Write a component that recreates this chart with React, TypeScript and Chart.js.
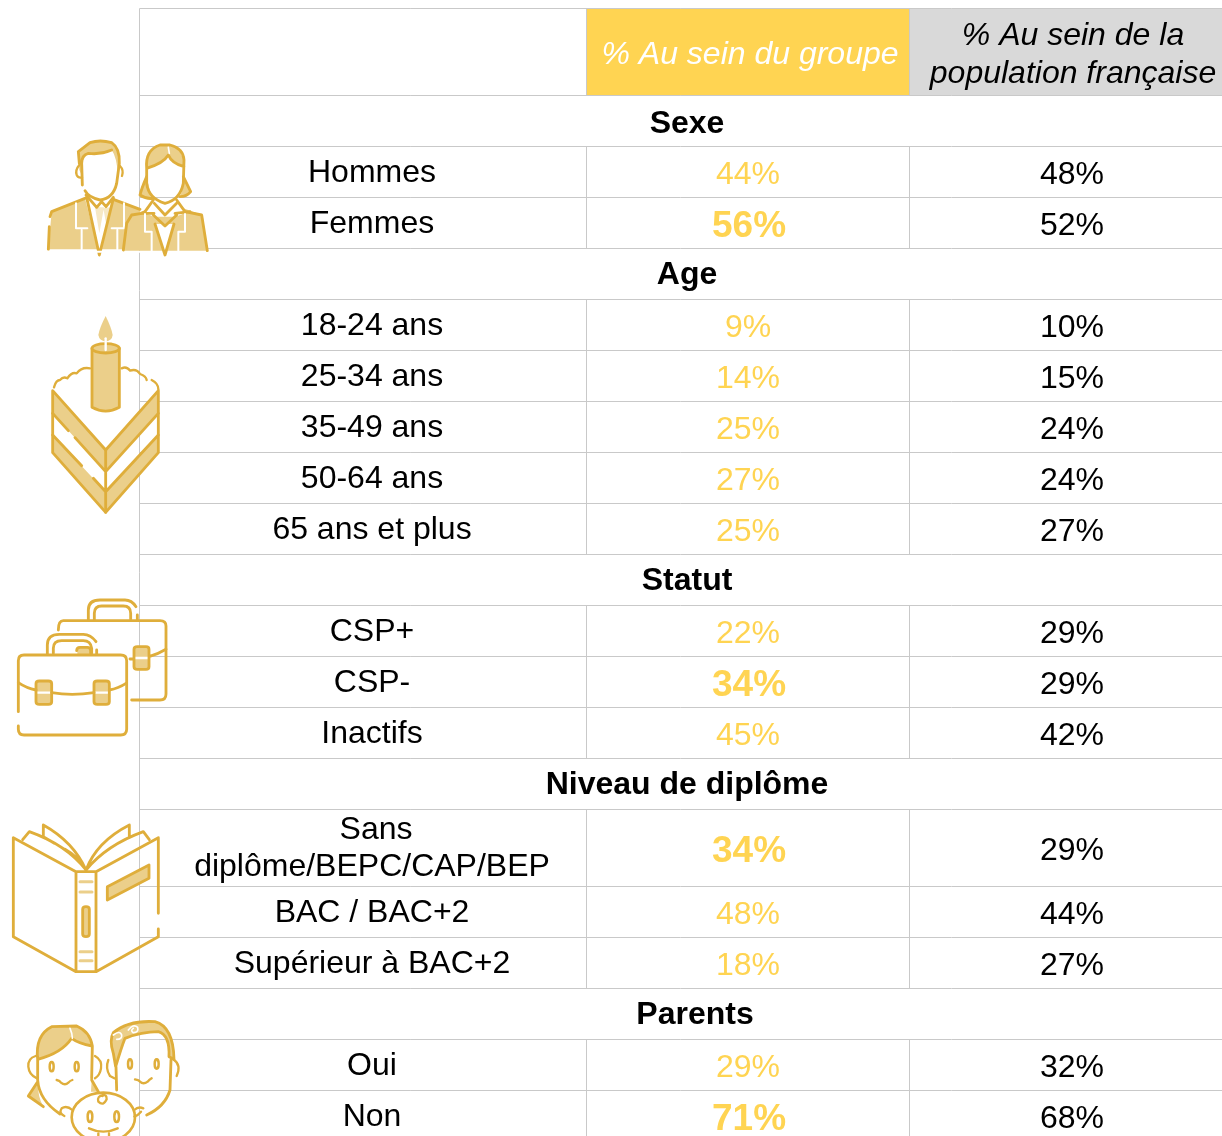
import React, { useEffect, useRef } from "react";
import { Chart, registerables } from "chart.js";

Chart.register(...registerables);

const sectionTitles = ["Sexe", "Age", "Statut", "Niveau de diplôme", "Parents"];
const sectionSizes = [2, 5, 3, 3, 2];
const rowLabels = [
  "Hommes", "Femmes",
  "18-24 ans", "25-34 ans", "35-49 ans", "50-64 ans", "65 ans et plus",
  "CSP+", "CSP-", "Inactifs",
  "Sans\ndiplôme/BEPC/CAP/BEP", "BAC / BAC+2", "Supérieur à BAC+2",
  "Oui", "Non",
];
const groupValues = [44, 56, 9, 14, 25, 27, 25, 22, 34, 45, 34, 48, 18, 29, 71];
const populationValues = [48, 52, 10, 15, 24, 24, 27, 29, 29, 42, 29, 44, 27, 32, 68];
const emphasisedRows = [1, 8, 10, 14];
const groupHeader = "% Au sein du groupe";
const populationHeader = ["% Au sein de la", "population française"];

const W = 1222, H = 1136;
const TOP = 8.5, HEADER_H = 87, ROW_H = 51, TALL_H = 77;
const X_LEFT = 139.5, X_A = 586.5, X_B = 909.5;
const X_LABEL = 372, X_SECTION = 687, X_GROUP = 748, X_POP = 1072;
const YELLOW = "#FFD452", GREY = "#D9D9D9", LINE = "#C9C9C9";
const STROKE = "#DFAE3B", FILL = "#EBCF8A";

type Row = { kind: "section" | "data"; top: number; bottom: number; index: number };
const rows: Row[] = [];
{
  let y = TOP + HEADER_H, idx = 0;
  sectionSizes.forEach((n, s) => {
    rows.push({ kind: "section", top: y, bottom: y + ROW_H, index: s });
    y += ROW_H;
    for (let i = 0; i < n; i++) {
      const h = rowLabels[idx].includes("\n") ? TALL_H : ROW_H;
      rows.push({ kind: "data", top: y, bottom: y + h, index: idx });
      y += h;
      idx++;
    }
  });
}
const dataRows = rows.filter((r) => r.kind === "data");
const rowCentre = (i: number) => (dataRows[i].top + dataRows[i].bottom) / 2;

type C = CanvasRenderingContext2D;
class Pen {
  ctx: C;
  constructor(ctx: C) { this.ctx = ctx; }
  s(d: string, color = STROKE, w = 8.5) {
    this.ctx.strokeStyle = color; this.ctx.lineWidth = w; this.ctx.stroke(new Path2D(d));
  }
  f(d: string, color = FILL) {
    this.ctx.fillStyle = color; this.ctx.fill(new Path2D(d));
  }
  eye(x: number, y: number, rx = 6, ry = 14) {
    const c = this.ctx;
    c.beginPath(); c.ellipse(x, y, rx, ry, 0, 0, Math.PI * 2);
    c.strokeStyle = STROKE; c.lineWidth = 7.5; c.stroke();
  }
}
function icon(ctx: C, ox: number, oy: number, draw: (p: Pen) => void) {
  ctx.save();
  ctx.translate(ox, oy);
  ctx.scale(1 / 3, 1 / 3);
  ctx.lineCap = "round";
  ctx.lineJoin = "round";
  draw(new Pen(ctx));
  ctx.restore();
}

function drawPeople(ctx: C) {
  icon(ctx, 0, 120, (p) => {
    // man
    p.f("M145 388 L155 275 L255 235 L298 405 L340 240 L420 268 L425 388 Z");
    p.f("M235 95 Q250 78 270 66 Q300 58 335 68 Q360 85 358 130 L354 165 Q350 110 335 90 Q300 105 265 100 Q245 120 245 140 L247 170 L238 150 Z");
    p.f("M285 262 L312 262 L298 340 Z M310 265 L332 262 L318 310 Z", "#F6E8C4");
    p.s("M155 275 L255 235 M340 238 L420 268 M155 275 L150 290 M148 320 L145 388");
    p.s("M260 232 L298 405 L340 236");
    p.s("M258 225 L290 262 L305 245 L318 260 L340 232");
    p.s("M270 68 Q300 58 335 68 Q360 85 358 130 L350 190 Q340 235 300 240 Q265 232 255 212 M245 130 L247 195 M245 130 Q245 105 265 100 Q300 105 335 90 M235 95 L270 68 M235 95 L238 130");
    p.s("M238 135 Q225 150 230 165 Q235 175 246 172 M360 138 Q372 150 366 168", STROKE, 7);
    p.s("M228 250 L228 325 L262 325 M245 330 L245 388 M372 250 L372 325 L335 325 M352 330 L352 388 M130 395 L430 395", "#FFFFFF", 6);
    // woman
    p.f("M368 392 L380 310 L395 285 L460 262 L495 300 L530 258 L608 285 L622 392 Z");
    p.f("M440 145 Q435 90 480 75 L510 75 Q550 85 552 140 Q515 130 505 105 Q490 130 440 145 Z");
    p.f("M440 170 Q425 205 420 225 Q440 238 458 235 L448 205 Z M550 170 L572 215 Q560 230 540 230 L550 200 Z");
    p.f("M462 245 L435 278 L470 305 L495 320 L525 305 L555 275 L530 245 L495 255 Z", "#FFFFFF");
    p.f("M437 280 L462 290 L525 290 L555 280 L555 335 L437 335 Z");
    p.f("M465 312 L495 405 L522 312 Z", "#FFFFFF");
    p.s("M440 145 L440 190 Q445 235 495 250 Q540 240 550 190 L552 120 Q550 85 510 75 L480 75 Q435 90 440 145 Q490 130 505 105 Q515 130 552 140");
    p.s("M440 170 Q425 205 420 225 Q440 238 458 235 M550 170 L572 215 Q560 230 540 230");
    p.s("M460 240 L435 275 L425 280 L395 285 L380 310 L370 390 M530 240 L555 275 L605 285 L622 392");
    p.s("M463 250 L495 285 L530 250 M460 285 L495 318 L530 285 M465 312 L495 405 L522 312 M425 280 L462 280 M525 280 L570 275");
    p.s("M435 282 L435 335 L455 335 L455 392 M555 282 L555 335 L535 335 L535 392", "#FFFFFF", 6);
    p.s("M505 82 L508 100", "#FFFFFF", 5);
  });
}

function drawCake(ctx: C) {
  icon(ctx, 30, 300, (p) => {
    p.f("M68 272 L227 450 L227 515 L68 340 Z M68 405 L227 575 L227 637 L68 458 Z");
    p.f("M385 272 L227 450 L227 515 L385 340 Z M385 405 L227 575 L227 637 L385 458 Z");
    p.s("M68 272 L227 450 L385 272 L385 458 L227 637 L68 458 Z");
    p.s("M68 340 L115 392 M135 413 L227 515 L385 340 M68 405 L155 497 M190 535 L227 575 L385 405 M227 450 L227 637");
    p.s("M72 262 Q78 240 90 240 Q100 228 112 235 Q125 215 140 220 Q155 200 180 205", STROKE, 7);
    p.s("M275 205 Q290 198 300 212 Q320 205 330 222 Q348 228 350 240 M365 240 Q385 250 385 268", STROKE, 7);
    p.f("M227 48 Q245 85 248 105 Q246 122 227 125 Q208 122 205 105 Q208 85 227 48 Z");
    p.f("M186 145 L268 145 L268 322 Q227 345 186 322 Z");
    p.s("M186 145 L186 322 Q227 345 268 322 L268 145");
    ctx.beginPath(); ctx.ellipse(227, 145, 41, 14, 0, 0, Math.PI * 2);
    ctx.fillStyle = FILL; ctx.fill();
    ctx.strokeStyle = STROKE; ctx.lineWidth = 8.5; ctx.stroke();
    p.s("M227 115 L227 150", "#FFFFFF", 7);
  });
}

function drawCases(ctx: C) {
  icon(ctx, 0, 590, (p) => {
    p.f("M402 178 Q402 170 412 170 L438 170 Q447 170 447 178 L447 230 Q447 238 438 238 L412 238 Q402 238 402 230 Z");
    p.f("M232 172 L272 172 L272 192 L232 192 Z");
    p.f("M108 281 Q108 273 118 273 L145 273 Q155 273 155 281 L155 335 Q155 343 145 343 L118 343 Q108 343 108 335 Z");
    p.f("M282 281 Q282 273 292 273 L318 273 Q328 273 328 281 L328 335 Q328 343 318 343 L292 343 Q282 343 282 335 Z");
    p.s("M405 204 L445 204 M112 308 L152 308 M285 308 L325 308", "#FFFFFF", 7);
    p.s("M395 330 L480 330 Q498 330 498 312 L498 108 Q498 92 480 92 L190 92 Q175 92 175 120");
    p.s("M265 90 L265 60 Q265 30 300 30 L375 30 Q395 30 408 50 M283 90 L283 70 Q283 48 305 48 L370 48 Q392 48 392 70 L392 88 M412 75 L412 92");
    p.s("M402 178 Q402 170 412 170 L438 170 Q447 170 447 178 L447 230 Q447 238 438 238 L412 238 Q402 238 402 230 Z M390 207 L402 207 M447 200 Q475 192 498 178");
    p.s("M230 182 Q230 172 240 172 L262 172 Q272 172 272 182 L272 190");
    p.s("M55 365 L55 212 Q55 195 72 195 L362 195 Q380 195 380 212 L380 418 Q380 435 362 435 L72 435 Q55 435 55 418 L55 408");
    p.s("M142 192 L142 165 Q142 133 178 133 L250 133 Q272 133 288 155 M160 190 L160 175 Q160 152 185 152 L250 152 Q272 152 275 175 L275 190 M290 180 L290 192");
    p.s("M55 278 Q80 295 108 300 M155 308 Q215 318 282 308 M328 300 Q355 295 378 280");
    p.s("M108 281 Q108 273 118 273 L145 273 Q155 273 155 281 L155 335 Q155 343 145 343 L118 343 Q108 343 108 335 Z");
    p.s("M282 281 Q282 273 292 273 L318 273 Q328 273 328 281 L328 335 Q328 343 318 343 L292 343 Q282 343 282 335 Z");
  });
}

function drawBook(ctx: C) {
  icon(ctx, 0, 815, (p) => {
    p.s("M228 170 L40 68 L40 365 L228 470 L288 470 L475 365 L475 342 M475 295 L475 68 L288 170 L228 170 M228 170 L228 470 M288 170 L288 470");
    p.s("M68 74 L88 50 Q200 90 258 165 M130 65 L130 30 Q220 80 258 165 M130 65 L163 85 M195 103 Q235 125 258 165");
    p.s("M448 74 L430 50 Q320 90 258 165 M388 65 L388 30 Q290 80 258 165");
    p.f("M322 215 L447 150 L447 190 L322 255 Z");
    p.s("M322 215 L447 150 L447 190 L322 255 Z");
    p.f("M248 283 Q248 275 258 275 Q268 275 268 283 L268 357 Q268 365 258 365 Q248 365 248 357 Z");
    p.s("M248 283 Q248 275 258 275 Q268 275 268 283 L268 357 Q268 365 258 365 Q248 365 248 357 Z");
    p.s("M240 200 L276 200 M240 231 L276 231 M240 410 L276 410 M240 437 L276 437", FILL, 9);
  });
}

function drawParents(ctx: C) {
  icon(ctx, 15, 1010, (p) => {
    ctx.save();
    ctx.beginPath();
    ctx.rect(-45, -10, 700, 388);
    ctx.clip();
    p.f("M68 148 Q60 75 110 50 L185 48 Q225 65 232 108 Q190 100 170 85 Q140 130 68 148 Z");
    p.f("M68 215 L40 258 L85 290 Q68 260 68 215 Z M230 210 L250 245 L228 245 Z");
    p.s("M68 148 Q60 75 110 50 L185 48 Q225 65 232 108 Q190 100 170 85 Q140 130 68 148 M68 140 L68 210 Q72 270 135 312 M232 108 L230 205 M68 215 L40 258 L85 290 M230 210 L250 245");
    p.s("M62 138 Q38 145 40 170 Q42 195 66 205 M240 138 Q262 150 258 175 Q255 195 240 205", STROKE, 7);
    p.s("M165 55 Q172 70 172 85", "#FFFFFF", 5);
    p.eye(110, 170); p.eye(185, 170);
    p.s("M125 210 Q135 212 138 218 Q150 228 160 218 Q165 212 172 210", STROKE, 7);
    p.f("M295 68 Q340 30 420 35 Q475 50 477 148 L462 140 Q465 75 430 65 Q380 65 330 85 Q320 110 302 170 L295 130 Q282 90 295 68 Z");
    p.s("M295 68 Q340 30 420 35 Q475 50 477 148 L462 140 Q465 75 430 65 Q380 65 330 85 Q320 110 302 170 L295 130 Q282 90 295 68 M303 170 L305 240 M468 150 L465 240 Q450 290 395 315");
    p.s("M295 75 Q315 60 320 75 Q322 88 305 88 M340 60 Q355 40 368 52 Q372 68 355 68 Q345 62 355 55", "#FFFFFF", 5);
    p.s("M280 150 Q270 175 285 198 L298 205 M475 148 Q500 165 485 198", STROKE, 7);
    p.eye(345, 162); p.eye(425, 162);
    p.s("M360 208 Q372 210 375 215 Q385 225 398 215 Q402 210 410 205", STROKE, 7);
    ctx.beginPath(); ctx.ellipse(265, 322, 95, 74, 0, 0, Math.PI * 2);
    ctx.fillStyle = "#FFFFFF"; ctx.fill();
    ctx.strokeStyle = STROKE; ctx.lineWidth = 8; ctx.stroke();
    p.s("M172 300 Q155 285 140 295 Q130 310 148 318 M358 300 Q370 288 385 295 M358 320 Q370 315 378 305", STROKE, 7);
    p.s("M262 258 Q275 250 275 268 Q265 290 250 275 Q245 258 265 255", STROKE, 7);
    p.eye(225, 320, 7, 16); p.eye(305, 320, 7, 16);
    p.s("M222 355 Q265 375 308 355 M250 370 L250 385 M282 370 L282 385", STROKE, 7);
    ctx.restore();
  });
}

const FONT = '"Liberation Sans", Arial, sans-serif';

const tablePlugin = {
  id: "tablePlugin",
  beforeDatasetsDraw(chart: any) {
    const { ctx, scales } = chart;
    const px = (v: number) => scales.x.getPixelForValue(v);
    const py = (v: number) => scales.y.getPixelForValue(v);
    const fillCell = (x0: number, x1: number, y0: number, y1: number, c: string) => {
      ctx.fillStyle = c;
      ctx.fillRect(px(x0), py(y0), px(x1) - px(x0), py(y1) - py(y0));
    };
    ctx.save();
    fillCell(X_A, X_B, TOP, TOP + HEADER_H, YELLOW);
    fillCell(X_B, W, TOP, TOP + HEADER_H, GREY);

    ctx.strokeStyle = LINE;
    ctx.lineWidth = 1;
    const seg = (x0: number, y0: number, x1: number, y1: number) => {
      ctx.beginPath();
      ctx.moveTo(px(x0), py(y0));
      ctx.lineTo(px(x1), py(y1));
      ctx.stroke();
    };
    seg(X_LEFT, TOP, W, TOP);
    seg(X_LEFT, TOP, X_LEFT, H);
    seg(X_A, TOP, X_A, TOP + HEADER_H);
    seg(X_B, TOP, X_B, TOP + HEADER_H);
    seg(X_LEFT, TOP + HEADER_H, W, TOP + HEADER_H);
    rows.forEach((r) => {
      seg(X_LEFT, r.bottom, W, r.bottom);
      if (r.kind === "data") {
        seg(X_A, r.top, X_A, Math.min(r.bottom, H));
        seg(X_B, r.top, X_B, Math.min(r.bottom, H));
      }
    });

    ctx.textAlign = "center";
    ctx.textBaseline = "middle";
    ctx.font = `italic 32px ${FONT}`;
    ctx.fillStyle = "#FFFFFF";
    ctx.fillText(groupHeader, px(750), py(55));
    ctx.fillStyle = "#000000";
    ctx.fillText(populationHeader[0], px(1073), py(36));
    ctx.fillText(populationHeader[1], px(1073), py(74));
    rows.forEach((r) => {
      ctx.fillStyle = "#000000";
      const c = (r.top + r.bottom) / 2;
      if (r.kind === "section") {
        ctx.font = `bold 32px ${FONT}`;
        const t = sectionTitles[r.index];
        ctx.fillText(t, px(t === "Parents" ? 695 : X_SECTION), py(c + (t === "Sexe" ? 3 : 1)));
      } else {
        ctx.font = `32px ${FONT}`;
        const lines = rowLabels[r.index].split("\n");
        if (lines.length === 2) {
          ctx.fillText(lines[0], px(X_LABEL + 4), py(c - 18));
          ctx.fillText(lines[1], px(X_LABEL), py(c + 19));
        } else {
          ctx.fillText(lines[0], px(X_LABEL), py(c + 1));
        }
      }
    });
    ctx.restore();
  },
  afterDatasetsDraw(chart: any) {
    const { ctx, scales } = chart;
    ctx.save();
    ctx.textAlign = "center";
    ctx.textBaseline = "middle";
    chart.data.datasets.forEach((ds: any, di: number) => {
      ds.data.forEach((pt: any, i: number) => {
        const bold = di === 0 && emphasisedRows.includes(i);
        ctx.font = bold ? `bold 37px ${FONT}` : `32px ${FONT}`;
        ctx.fillStyle = di === 0 ? YELLOW : "#000000";
        ctx.fillText(
          `${pt.v}%`,
          scales.x.getPixelForValue(pt.x) + (bold ? 1 : 0),
          scales.y.getPixelForValue(pt.y) + (bold ? 4 : 3),
        );
      });
    });
    drawPeople(ctx);
    drawCake(ctx);
    drawCases(ctx);
    drawBook(ctx);
    drawParents(ctx);
    ctx.restore();
  },
};

export default function App() {
  const ref = useRef<HTMLCanvasElement>(null);
  useEffect(() => {
    if (!ref.current) return;
    const chart = new Chart(ref.current, {
      type: "scatter",
      data: {
        datasets: [
          { label: groupHeader, data: groupValues.map((v, i) => ({ x: X_GROUP, y: rowCentre(i), v })) as any, pointRadius: 0 },
          { label: populationHeader.join(" "), data: populationValues.map((v, i) => ({ x: X_POP, y: rowCentre(i), v })) as any, pointRadius: 0 },
        ],
      },
      options: {
        animation: false,
        responsive: false,
        layout: { padding: 0 },
        plugins: { legend: { display: false }, tooltip: { enabled: false } },
        scales: {
          x: { type: "linear", min: 0, max: W, display: false },
          y: { type: "linear", min: 0, max: H, reverse: true, display: false },
        },
      },
      plugins: [tablePlugin],
    });
    return () => chart.destroy();
  }, []);
  return (
    <canvas
      ref={ref}
      width={W}
      height={H}
      style={{ position: "absolute", left: 0, top: 0, display: "block", width: W, height: H }}
    />
  );
}
